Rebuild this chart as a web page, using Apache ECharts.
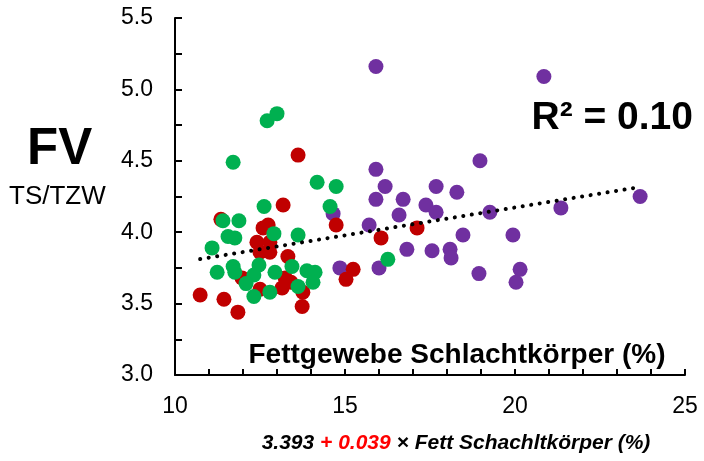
<!DOCTYPE html>
<html>
<head>
<meta charset="utf-8">
<script src="https://cdn.jsdelivr.net/npm/echarts@6/dist/echarts.min.js"></script>
<style>
  html, body { margin: 0; padding: 0; background: #fff; }
  #chart { width: 704px; height: 461px; }
</style>
</head>
<body>
<div id="chart"></div>
<script>
// Fettgewebe (x, %) vs. FV (y, TS/TZW), three groups
const purplePoints = [
  [15.91, 5.16], [20.85, 5.09], [15.91, 4.44], [18.97, 4.50], [16.18, 4.32],
  [17.68, 4.32], [18.29, 4.28], [15.91, 4.23], [16.71, 4.23], [17.38, 4.19],
  [17.68, 4.14], [16.59, 4.12], [14.65, 4.13], [15.71, 4.05], [19.26, 4.14],
  [21.35, 4.17], [23.68, 4.25], [18.47, 3.98], [19.94, 3.98], [16.82, 3.88],
  [17.56, 3.87], [18.09, 3.88], [18.12, 3.82], [18.94, 3.71], [20.15, 3.74],
  [20.03, 3.65], [14.85, 3.75], [16.00, 3.75]
];
const redPoints = [
  [13.62, 4.54], [13.18, 4.19], [11.35, 4.09], [14.74, 4.05], [16.06, 3.96],
  [17.12, 4.03], [10.74, 3.56], [11.44, 3.53], [11.85, 3.44], [13.74, 3.48],
  [15.03, 3.67], [15.24, 3.74], [12.59, 4.03], [12.74, 4.05], [12.41, 3.93],
  [12.79, 3.93], [12.50, 3.86], [12.79, 3.86], [13.32, 3.83], [11.97, 3.68],
  [13.24, 3.68], [13.41, 3.65], [13.15, 3.61], [13.76, 3.58], [12.50, 3.60]
];
const greenPoints = [
  [11.71, 4.49], [12.71, 4.78], [13.00, 4.83], [14.18, 4.35], [14.74, 4.32],
  [12.62, 4.18], [14.56, 4.18], [11.41, 4.08], [11.88, 4.08], [11.56, 3.97],
  [11.76, 3.96], [12.91, 3.99], [13.62, 3.98], [11.09, 3.89], [16.26, 3.81],
  [11.24, 3.72], [11.71, 3.76], [11.76, 3.72], [12.47, 3.77], [12.32, 3.70],
  [12.94, 3.72], [13.44, 3.76], [13.88, 3.73], [14.12, 3.72], [14.06, 3.65],
  [12.09, 3.64], [13.62, 3.62], [12.32, 3.55], [12.79, 3.58]
];

// linear fit: FV = intercept + slope * Fett
const intercept = 3.393;
const slope = 0.039;
const rSquared = '0.10';

const xRange = [10, 25];
const yRange = [3.0, 5.5];

const allX = purplePoints.concat(redPoints, greenPoints).map(p => p[0]);
const xMin = Math.min(...allX);
const xMax = Math.max(...allX);
const trendPoints = [xMin, xMax].map(x => [x, intercept + slope * x]);

const FONT = "'Liberation Sans', Arial, sans-serif";

const chart = echarts.init(document.getElementById('chart'), null, { renderer: 'canvas' });

const scatterBase = { type: 'scatter', symbol: 'circle', symbolSize: 15, silent: true };

chart.setOption({
  animation: false,
  backgroundColor: '#fff',
  grid: { left: 175, right: 19, top: 18, bottom: 86, containLabel: false, outerBoundsMode: 'none' },
  xAxis: {
    type: 'value',
    min: xRange[0], max: xRange[1], interval: 5,
    axisLine: { show: true, onZero: false, lineStyle: { color: '#000', width: 2 } },
    axisTick: { show: true, inside: true, length: 6, lineStyle: { color: '#000', width: 2 } },
    minorTick: { show: true, splitNumber: 5, length: 6, lineStyle: { color: '#000', width: 2 } },
    splitLine: { show: false },
    axisLabel: { color: '#000', fontFamily: FONT, fontSize: 23, margin: 20 }
  },
  yAxis: {
    type: 'value',
    min: yRange[0], max: yRange[1], interval: 0.5,
    axisLine: { show: true, onZero: false, lineStyle: { color: '#000', width: 2 } },
    axisTick: { show: true, inside: true, length: 7, lineStyle: { color: '#000', width: 2 } },
    minorTick: { show: true, splitNumber: 2, length: 7, lineStyle: { color: '#000', width: 2 } },
    splitLine: { show: false },
    axisLabel: {
      color: '#000', fontFamily: FONT, fontSize: 23, margin: 22,
      formatter: v => v.toFixed(1)
    }
  },
  series: [
    Object.assign({ name: 'purple', data: purplePoints, itemStyle: { color: '#7030A0', opacity: 1 }, z: 2 }, scatterBase),
    Object.assign({ name: 'red', data: redPoints, itemStyle: { color: '#C00000', opacity: 1 }, z: 3 }, scatterBase),
    Object.assign({ name: 'green', data: greenPoints, itemStyle: { color: '#00B050', opacity: 1 }, z: 4 }, scatterBase),
    {
      type: 'line', name: 'trend', data: trendPoints, symbol: 'none', silent: true, z: 5,
      lineStyle: { color: '#000', width: 4, type: [0.1, 8.5], cap: 'round' }
    }
  ],
  graphic: [
    {
      type: 'text', left: 27, top: 124, silent: true,
      style: { text: 'FV', fill: '#000', font: 'bold 51px ' + FONT }
    },
    {
      type: 'text', left: 9, top: 184, silent: true,
      style: { text: 'TS/TZW', fill: '#000', font: '26px ' + FONT }
    },
    {
      type: 'text', x: 693, y: 118, silent: true,
      style: { text: 'R² = ' + rSquared, fill: '#000', font: 'bold 39px ' + FONT, align: 'right', verticalAlign: 'middle' }
    },
    {
      type: 'text', x: 457, y: 355, silent: true,
      style: { text: 'Fettgewebe Schlachtkörper (%)', fill: '#000', font: 'bold 28px ' + FONT, align: 'center', verticalAlign: 'middle' }
    },
    {
      type: 'text', x: 456, y: 443, silent: true,
      style: {
        text: '{a|' + intercept.toFixed(3) + ' }{b|+ ' + slope.toFixed(3) + '}{a| × Fett Schachltkörper (%)}',
        align: 'center', verticalAlign: 'middle',
        rich: {
          a: { fill: '#000', fontFamily: FONT, fontSize: 21, fontWeight: 'bold', fontStyle: 'italic' },
          b: { fill: '#FF0000', fontFamily: FONT, fontSize: 21, fontWeight: 'bold', fontStyle: 'italic' }
        }
      }
    }
  ]
});
</script>
</body>
</html>
